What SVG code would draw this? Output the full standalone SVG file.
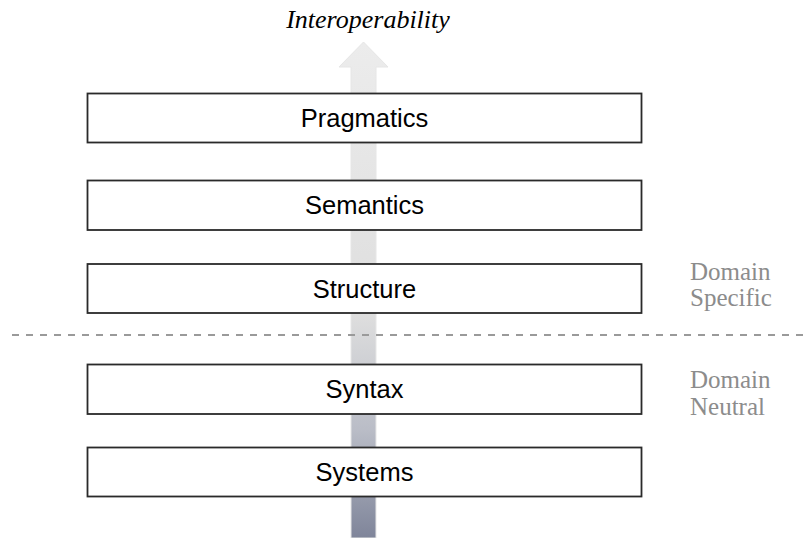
<svg xmlns="http://www.w3.org/2000/svg" width="805" height="538" viewBox="0 0 805 538">
<defs>
<linearGradient id="ag" gradientUnits="userSpaceOnUse" x1="0" y1="42" x2="0" y2="538">
<stop offset="0" stop-color="#ececec"/>
<stop offset="0.55" stop-color="#dedede"/>
<stop offset="0.78" stop-color="#babdc7"/>
<stop offset="1" stop-color="#7f859a"/>
</linearGradient>
<style>
.box{fill:#fff;stroke:#2a2a2a;stroke-width:1.8}
.lbl{font-family:"Liberation Sans",Arial,sans-serif;font-size:25.5px;fill:#000;text-anchor:middle}
.side{font-family:"Liberation Serif","Times New Roman",serif;font-size:25px;fill:#8c8c8c}
.title{font-family:"Liberation Serif","Times New Roman",serif;font-size:26px;font-style:italic;fill:#000;text-anchor:middle}
</style>
</defs>
<rect width="805" height="538" fill="#fff"/>
<g id="connectors">
<path id="arrow" d="M351,538 L351,67 L339,67 L363.5,42 L388,67 L376,67 L376,538 Z" fill="url(#ag)" stroke="#e6e6e6" stroke-width="1"/>
</g>
<g id="pragmatics"><rect class="box" x="87.5" y="93.5" width="554" height="49"/><text class="lbl" x="364.5" y="127">Pragmatics</text></g>
<g id="semantics"><rect class="box" x="87.5" y="180.5" width="554" height="49.5"/><text class="lbl" x="364.5" y="214">Semantics</text></g>
<g id="structure"><rect class="box" x="87.5" y="264" width="554" height="49"/><text class="lbl" x="364.5" y="298">Structure</text></g>
<g id="syntax"><rect class="box" x="87.5" y="364.5" width="554" height="49.5"/><text class="lbl" x="364.5" y="398">Syntax</text></g>
<g id="systems"><rect class="box" x="87.5" y="447.5" width="554" height="49"/><text class="lbl" x="364.5" y="481">Systems</text></g>
<g id="divider"><line x1="12" y1="335" x2="805" y2="335" stroke="#9a9a9a" stroke-width="2" stroke-dasharray="7 7"/></g>
<g id="title"><text class="title" x="368" y="28">Interoperability</text></g>
<g id="domain-specific"><text class="side" x="690" y="280">Domain</text><text class="side" x="690" y="306">Specific</text></g>
<g id="domain-neutral"><text class="side" x="690" y="388">Domain</text><text class="side" x="690" y="415">Neutral</text></g>
</svg>
